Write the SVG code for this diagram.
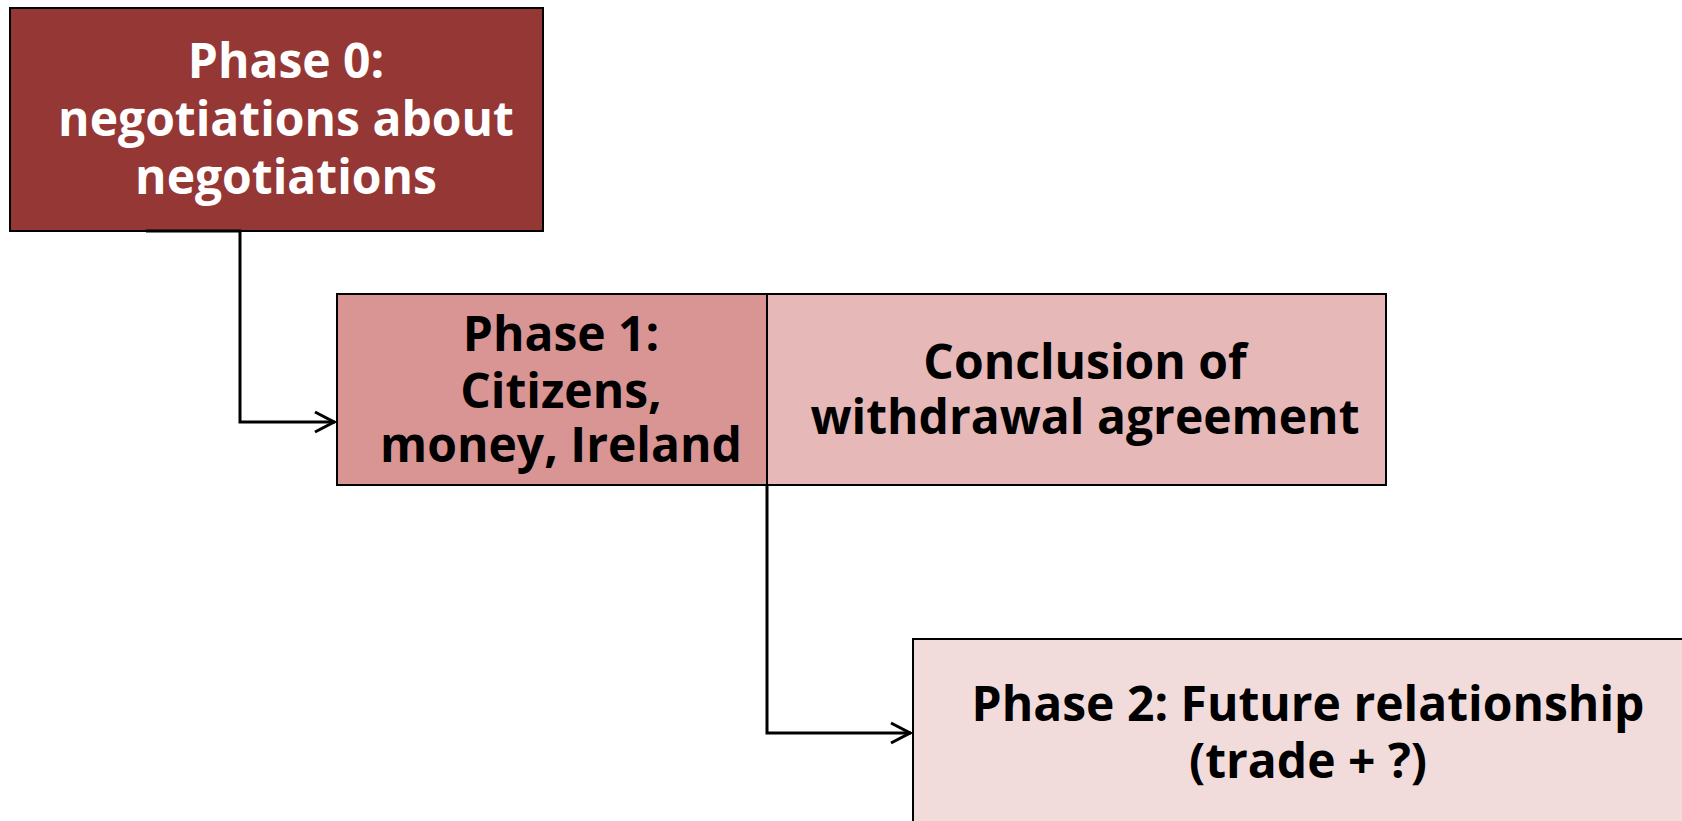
<svg xmlns="http://www.w3.org/2000/svg" width="1682" height="821" viewBox="0 0 1682 821">
<style>
.box{stroke:#000;stroke-width:2}
.t{font-family:"Open Sans","Noto Sans","Liberation Sans",sans-serif;font-weight:700;font-size:48px;text-anchor:middle}
.w{fill:#fff}
.k{fill:#000}
.c{fill:none;stroke:#000;stroke-width:3}
</style>
<defs>
<marker id="arr" viewBox="0 0 22 24" refX="21" refY="12" markerWidth="22" markerHeight="24" markerUnits="userSpaceOnUse" orient="auto">
<path d="M1,2 L20,12 L1,22" fill="none" stroke="#000" stroke-width="3"/>
</marker>
</defs>
<rect width="1682" height="821" fill="#fff"/>
<g id="phase0">
<rect class="box" x="10" y="8" width="533" height="223" fill="#953735"/>
<text class="t w" x="286" y="78">Phase 0:</text>
<text class="t w" x="286" y="136">negotiations about</text>
<text class="t w" x="286" y="194">negotiations</text>
</g>
<g id="phase1">
<rect class="box" x="337" y="294" width="430" height="191" fill="#D99594"/>
<text class="t k" x="561" y="351">Phase 1:</text>
<text class="t k" x="561" y="408">Citizens,</text>
<text class="t k" x="561" y="462">money, Ireland</text>
</g>
<g id="conclusion">
<rect class="box" x="767" y="294" width="619" height="191" fill="#E6B8B7"/>
<text class="t k" x="1085" y="379">Conclusion of</text>
<text class="t k" x="1085" y="434">withdrawal agreement</text>
</g>
<g id="phase2">
<rect class="box" x="913" y="639" width="790" height="200" fill="#F2DCDB"/>
<text class="t k" x="1308" y="721">Phase 2: Future relationship</text>
<text class="t k" x="1308" y="778">(trade + ?)</text>
</g>
<g id="connectors">
<path class="c" d="M146,231 H240 V422 H335" marker-end="url(#arr)"/>
<path class="c" d="M767,485 V733 H911" marker-end="url(#arr)"/>
</g>
</svg>
